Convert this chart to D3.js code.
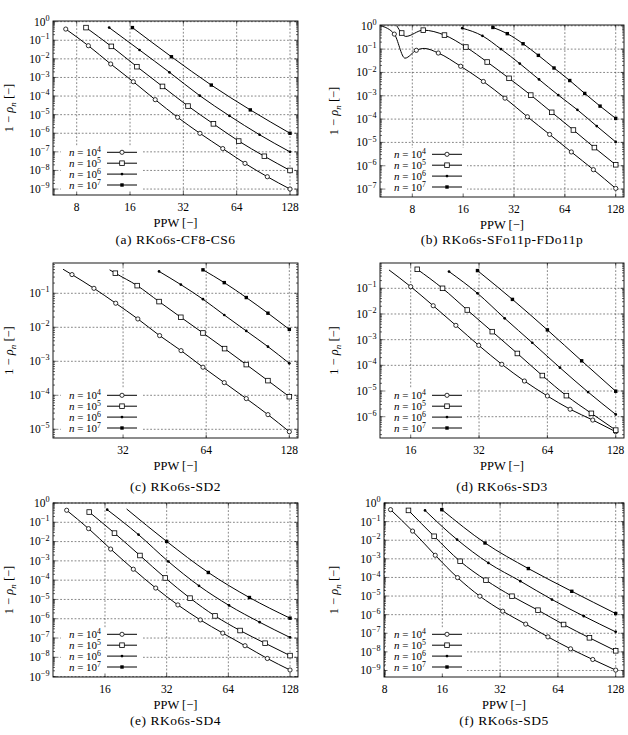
<!DOCTYPE html>
<html><head><meta charset="utf-8">
<script src="https://cdn.jsdelivr.net/npm/d3@7"></script>
<style>
body{margin:0;background:#fff}
text{font-family:"Liberation Serif","DejaVu Serif",serif;fill:#000}
</style>
</head><body><svg id="chart" width="628" height="735"></svg>
<script>
// ---------------- data ----------------
const legendExp = ["4","5","6","7"];
const markerKind = ["circle","square","dot","fsquare"];

const captionA = "(a) RKo6s-CF8-CS6";
const captionB = "(b) RKo6s-SFo11p-FDo11p";
const captionC = "(c) RKo6s-SD2";
const captionD = "(d) RKo6s-SD3";
const captionE = "(e) RKo6s-SD4";
const captionF = "(f) RKo6s-SD5";

const xTicksA = [8,16,32,64,128];
const xTicksB = [8,16,32,64,128];
const xTicksC = [32,64,128];
const xTicksD = [16,32,64,128];
const xTicksE = [16,32,64,128];
const xTicksF = [8,16,32,64,128];

const yExpA = [0,-1,-2,-3,-4,-5,-6,-7,-8,-9];
const yExpB = [0,-1,-2,-3,-4,-5,-6,-7];
const yExpC = [-1,-2,-3,-4,-5];
const yExpD = [-1,-2,-3,-4,-5,-6];
const yExpE = [0,-1,-2,-3,-4,-5,-6,-7,-8,-9];
const yExpF = [0,-1,-2,-3,-4,-5,-6,-7,-8,-9];

const ppwA = [
 [6.94, 9.31, 12.45, 16.7, 22.2, 29.7, 39.7, 53.4, 71.3, 95.3, 128],
 [9.03, 12.55, 17.5, 24.4, 34, 47.3, 65.7, 91.7, 128],
 [12.2, 18.1, 26.7, 39.6, 58.2, 86.2, 128],
 [16.5, 27.4, 46, 76.4, 128]
];
const valA = [
 [0.40, 5.1e-2, 5.3e-3, 5.9e-4, 6.4e-5, 7.2e-6, 9.9e-7, 1.5e-7, 2.4e-8, 4.6e-9, 1.0e-9],
 [0.48, 4.7e-2, 3.8e-3, 3.3e-4, 2.9e-5, 3.2e-6, 3.8e-7, 5.8e-8, 1.0e-8],
 [0.48, 3.0e-2, 1.9e-3, 1.05e-4, 8.7e-6, 8.3e-7, 1.0e-7],
 [0.48, 1.3e-2, 3.9e-4, 1.8e-5, 1.0e-6]
];
const noMarkA = [[],[],[],[]];

const ppwB = [
 [5.2, 6.26, 7.24, 8.45, 9.4, 11.4, 15.47, 21.07, 28.3, 38.4, 52, 69.9, 94.4, 128],
 [6.47, 6.92, 7.31, 9.29, 12.4, 16.6, 22.2, 29.9, 40.2, 53.5, 71.9, 95.7, 128],
 [15.8, 20.8, 26.8, 34.6, 45, 58.5, 75.9, 98.8, 128],
 [24.0, 29.2, 36.2, 44.6, 55.2, 68.4, 83.9, 103.4, 128]
];
const valB = [
 [1.0, 0.44, 4.1e-2, 8.9e-2, 0.107, 6.8e-2, 1.84e-2, 4.1e-3, 7.9e-4, 1.26e-4, 2.2e-5, 3.9e-6, 6.8e-7, 1.07e-7],
 [1.0, 0.49, 0.35, 0.65, 0.40, 0.123, 2.8e-2, 5.6e-3, 1.07e-3, 1.95e-4, 3.4e-5, 6.0e-6, 1.1e-6],
 [0.79, 0.37, 0.10, 2.4e-2, 5.0e-3, 1.07e-3, 2.5e-4, 5.0e-5, 1.05e-5],
 [0.85, 0.46, 0.17, 5.4e-2, 1.55e-2, 4.5e-3, 1.26e-3, 3.6e-4, 1.07e-4]
];
const noMarkB = [[0,2,4],[0,2],[],[]];

const ppwC = [
 [19.4, 20.9, 25.1, 30.1, 36.2, 43.4, 51.9, 62.3, 74.4, 89.4, 107.1, 128],
 [28.6, 30.0, 36.0, 43.2, 51.8, 62.3, 74.6, 89.4, 107.1, 128],
 [43.2, 51.8, 62.3, 74.4, 89.4, 107.1, 128],
 [62.3, 74.4, 89.4, 107.1, 128]
];
const valC = [
 [0.51, 0.355, 0.14, 5.1e-2, 1.76e-2, 5.7e-3, 2.06e-3, 6.7e-4, 2.36e-4, 8.0e-5, 2.7e-5, 8.5e-6],
 [0.49, 0.39, 0.168, 5.7e-2, 1.97e-2, 6.8e-3, 2.36e-3, 8.0e-4, 2.7e-4, 9.1e-5],
 [0.44, 0.18, 6.7e-2, 2.3e-2, 7.8e-3, 2.7e-3, 8.7e-4],
 [0.49, 0.206, 7.5e-2, 2.6e-2, 8.7e-3]
];
const noMarkC = [[0],[0],[],[]];

const ppwD = [
 [12.84, 16, 20.1, 25.3, 31.9, 40.3, 50.7, 64, 80.6, 101.4, 128],
 [17.1, 22.1, 28.4, 36.6, 47.2, 60.8, 77.6, 100, 128],
 [23.6, 31.5, 41.5, 54.9, 72.7, 96.7, 128],
 [31.5, 44.9, 64, 90.6, 128]
];
const valD = [
 [0.52, 0.116, 2.1e-2, 3.6e-3, 6.0e-4, 1.1e-4, 2.45e-5, 6.4e-6, 1.95e-6, 7.4e-7, 2.6e-7],
 [0.55, 0.10, 1.43e-2, 2.05e-3, 2.9e-4, 4.0e-5, 6.6e-6, 1.35e-6, 3.0e-7],
 [0.45, 6.4e-2, 6.8e-3, 7.6e-4, 8.1e-5, 9.1e-6, 1.23e-6],
 [0.49, 3.7e-2, 2.4e-3, 1.5e-4, 9.8e-6]
];
const noMarkD = [[0],[],[],[]];

const ppwE = [
 [10.4, 13.3, 17.05, 22.0, 28.3, 36.3, 46.7, 60.1, 77.2, 99.2, 128],
 [13.4, 17.8, 23.7, 31.5, 41.6, 55.1, 73, 96.7, 128],
 [16.4, 23.3, 32.6, 46.0, 64.5, 91, 128],
 [20.4, 32, 51.1, 81.1, 128]
];
const valE = [
 [0.42, 4.7e-2, 4.1e-3, 3.7e-4, 3.9e-5, 5.2e-6, 8.7e-7, 1.8e-7, 4.0e-8, 8.7e-9, 2.2e-9],
 [0.34, 2.75e-2, 1.9e-3, 1.3e-4, 1.17e-5, 1.4e-6, 2.45e-7, 5.4e-8, 1.23e-8],
 [0.45, 2.3e-2, 9.3e-4, 5.1e-5, 4.9e-6, 6.6e-7, 1.07e-7],
 [0.49, 1.02e-2, 2.5e-4, 1.26e-5, 1.07e-6]
];
const noMarkE = [[],[],[],[0]];

const ppwF = [
 [8.6, 11.2, 14.7, 19.2, 25.1, 33.0, 43.5, 56.8, 74.5, 97.2, 128],
 [10.66, 14.5, 19.8, 27.0, 36.9, 50.4, 68.5, 93.4, 128],
 [13.0, 19.1, 27.8, 40.8, 59.6, 87.3, 128],
 [15.9, 26.7, 44.9, 75.6, 128]
];
const valF = [
 [0.44, 3.1e-2, 1.55e-3, 9.8e-5, 9.8e-6, 1.53e-6, 3.1e-7, 6.4e-8, 1.46e-8, 3.9e-9, 1.05e-9],
 [0.40, 1.63e-2, 7.4e-4, 7.1e-5, 9.8e-6, 1.74e-6, 2.95e-7, 5.7e-8, 1.14e-8],
 [0.40, 1.08e-2, 6.0e-4, 6.3e-5, 6.5e-6, 8.3e-7, 1.19e-7],
 [0.44, 7.1e-3, 3.0e-4, 1.8e-5, 1.15e-6]
];
const noMarkF = [[],[],[],[]];

// ---------------- layout ----------------
const panels = [
 {ppw:ppwA, val:valA, skip:noMarkA, xt:xTicksA, ye:yExpA, cap:captionA,
  x0:53, x1:298, y0:21, y1:195, xd:[5.88,142.0], yd:[-9.32,0.036], lgX:107, capY:243.5, ylX:9},
 {ppw:ppwB, val:valB, skip:noMarkB, xt:xTicksB, ye:yExpB, cap:captionB,
  x0:380, x1:624, y0:25, y1:197, xd:[5.15,143.3], yd:[-7.34,0.034], lgX:432, capY:243.5, ylX:334},
 {ppw:ppwC, val:valC, skip:noMarkC, xt:xTicksC, ye:yExpC, cap:captionC,
  x0:53, x1:298, y0:263, y1:438, xd:[17.84,137.6], yd:[-5.256,-0.109], lgX:107, capY:490.5, ylX:9},
 {ppw:ppwD, val:valD, skip:noMarkD, xt:xTicksD, ye:yExpD, cap:captionD,
  x0:380, x1:624, y0:263, y1:438, xd:[11.72,139.2], yd:[-6.83,-0.014], lgX:432, capY:490.5, ylX:334},
 {ppw:ppwE, val:valE, skip:noMarkE, xt:xTicksE, ye:yExpE, cap:captionE,
  x0:53, x1:298, y0:503, y1:677, xd:[8.92,140.0], yd:[-9.02,0.0], lgX:107, capY:724.5, ylX:9},
 {ppw:ppwF, val:valF, skip:noMarkF, xt:xTicksF, ye:yExpF, cap:captionF,
  x0:384, x1:624, y0:503, y1:677, xd:[7.95,141.4], yd:[-9.35,0.0], lgX:432, capY:724.5, ylX:334}
];

const svg = d3.select("#chart");
svg.append("rect").attr("width",628).attr("height",735).attr("fill","#fff");

function drawMarker(g, kind, cx, cy){
  if(kind==="circle") g.append("circle").attr("cx",cx).attr("cy",cy).attr("r",2.1)
      .attr("fill","#fff").attr("stroke","#000").attr("stroke-width",0.8);
  else if(kind==="square") g.append("rect").attr("x",cx-2.3).attr("y",cy-2.3).attr("width",4.6).attr("height",4.6)
      .attr("fill","#fff").attr("stroke","#000").attr("stroke-width",0.8);
  else if(kind==="dot") g.append("circle").attr("cx",cx).attr("cy",cy).attr("r",1.35).attr("fill","#000");
  else g.append("rect").attr("x",cx-1.7).attr("y",cy-1.7).attr("width",3.4).attr("height",3.4).attr("fill","#000");
}

panels.forEach((p,pi)=>{
  const g = svg.append("g");
  const x = d3.scaleLog().base(2).domain(p.xd).range([p.x0,p.x1]);
  const y = d3.scaleLog().domain([Math.pow(10,p.yd[0]),Math.pow(10,p.yd[1])]).range([p.y1,p.y0]);

  const clipId = "clip"+pi;
  g.append("clipPath").attr("id",clipId).append("rect")
    .attr("x",p.x0).attr("y",p.y0).attr("width",p.x1-p.x0).attr("height",p.y1-p.y0);

  // grid
  const grid = g.append("g").attr("stroke","#222").attr("stroke-width",0.55).attr("stroke-dasharray","1.8,1.8");
  p.xt.forEach(t=>grid.append("line").attr("x1",x(t)).attr("x2",x(t)).attr("y1",p.y0).attr("y2",p.y1));
  p.ye.forEach(e=>grid.append("line").attr("x1",p.x0).attr("x2",p.x1).attr("y1",y(Math.pow(10,e))).attr("y2",y(Math.pow(10,e))));

  // curves
  const line = d3.line().x(d=>x(d[0])).y(d=>y(d[1])).curve(d3.curveMonotoneX);
  const cg = g.append("g").attr("clip-path","url(#"+clipId+")");
  p.ppw.forEach((xs,si)=>{
    const pts = xs.map((v,i)=>[v,p.val[si][i]]);
    cg.append("path").attr("d",line(pts)).attr("fill","none").attr("stroke","#000").attr("stroke-width",1);
  });
  p.ppw.forEach((xs,si)=>{
    xs.forEach((v,i)=>{
      if(p.skip[si].includes(i)) return;
      drawMarker(cg, markerKind[si], x(v), y(p.val[si][i]));
    });
  });

  // legend
  const rowY = i => p.y1 - 10 - 10.9*(3-i);
  const lg = g.append("g");
  lg.append("rect").attr("x",p.lgX-46).attr("y",rowY(0)-6.5).attr("width",46+30+5)
    .attr("height",p.y1-1-(rowY(0)-6.5)).attr("fill","#fff");
  legendExp.forEach((ex,i)=>{
    const yy = rowY(i);
    const t = lg.append("text").attr("x",p.lgX-6).attr("y",yy+3.6).attr("text-anchor","end").style("font-size","11px");
    t.append("tspan").style("font-style","italic").text("n");
    t.append("tspan").text(" = 10");
    t.append("tspan").attr("dy",-3.8).style("font-size","7.8px").text(ex);
    lg.append("line").attr("x1",p.lgX).attr("x2",p.lgX+30).attr("y1",yy).attr("y2",yy).attr("stroke","#000").attr("stroke-width",1);
    drawMarker(lg, markerKind[i], p.lgX+15, yy);
  });

  // frame
  g.append("rect").attr("x",p.x0).attr("y",p.y0).attr("width",p.x1-p.x0).attr("height",p.y1-p.y0)
    .attr("fill","none").attr("stroke","#000").attr("stroke-width",0.9);

  // ticks
  const tk = g.append("g").attr("stroke","#000").attr("stroke-width",0.6);
  p.xt.forEach(t=>{
    tk.append("line").attr("x1",x(t)).attr("x2",x(t)).attr("y1",p.y1).attr("y2",p.y1-3.5);
    tk.append("line").attr("x1",x(t)).attr("x2",x(t)).attr("y1",p.y0).attr("y2",p.y0+3.5);
  });
  const lo = Math.floor(p.yd[0]), hi = Math.ceil(p.yd[1]);
  for(let k=lo;k<=hi;k++){
    for(let m=1;m<=9;m++){
      const v = m*Math.pow(10,k);
      const lv = Math.log10(v);
      if(lv<p.yd[0]-1e-9 || lv>p.yd[1]+1e-9) continue;
      const L = m===1?3.5:2;
      const yy = y(v);
      tk.append("line").attr("x1",p.x0).attr("x2",p.x0+L).attr("y1",yy).attr("y2",yy);
      tk.append("line").attr("x1",p.x1).attr("x2",p.x1-L).attr("y1",yy).attr("y2",yy);
    }
  }

  // tick labels
  p.xt.forEach(t=>{
    g.append("text").attr("x",x(t)).attr("y",p.y1+16).attr("text-anchor","middle").style("font-size","11.5px").text(t);
  });
  p.ye.forEach(e=>{
    const t = g.append("text").attr("x",p.x0-3.5).attr("y",y(Math.pow(10,e))+3.9).attr("text-anchor","end").style("font-size","11.5px");
    t.append("tspan").text("10");
    t.append("tspan").attr("dy",-4.8).style("font-size","8.2px").text(e===0?"0":"\u2212"+(-e));
  });

  // axis labels
  g.append("text").attr("x",(p.x0+p.x1)/2).attr("y",p.y1+31.5).attr("text-anchor","middle")
    .style("font-size","12.5px").text("PPW [\u2212]");
  const yl = g.append("text").attr("transform","translate("+(p.ylX+4)+","+((p.y0+p.y1)/2)+") rotate(-90)")
    .attr("text-anchor","middle").style("font-size","12.5px");
  yl.append("tspan").text("1 \u2212 ");
  yl.append("tspan").style("font-style","italic").text("\u03C1");
  yl.append("tspan").attr("dy",2.5).style("font-size","9px").style("font-style","italic").text("n");
  yl.append("tspan").attr("dy",-2.5).text(" [\u2212]");

  // caption
  g.append("text").attr("x",(p.x0+p.x1)/2).attr("y",p.capY).attr("text-anchor","middle")
    .style("font-size","13.5px").style("letter-spacing","0.5px").text(p.cap);
});
</script>
</body></html>
